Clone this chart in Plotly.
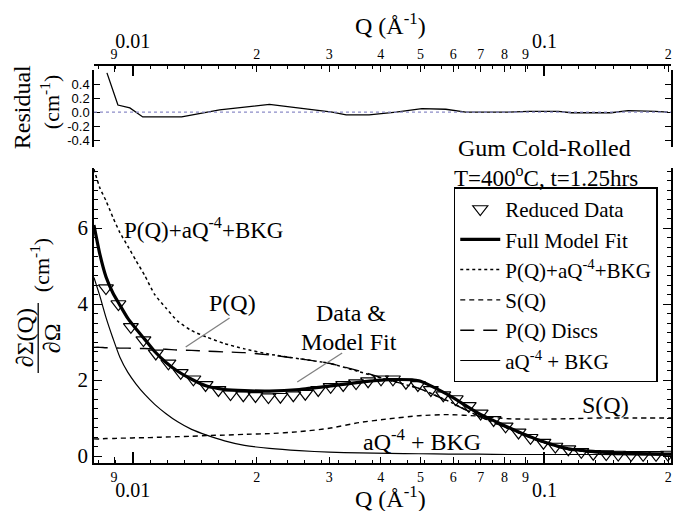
import plotly.graph_objects as go

# ---------------- data ----------------
# Reduced data (triangles)
q_data = [0.008603, 0.009224, 0.009889, 0.01061, 0.01137, 0.01220, 0.01307, 0.01403,
          0.01502, 0.01614, 0.01727, 0.01855, 0.01986, 0.02135, 0.02283, 0.02454,
          0.02624, 0.02821, 0.03024, 0.03244, 0.03486, 0.03728, 0.04008, 0.04285,
          0.04607, 0.04926, 0.05297, 0.05679, 0.06087, 0.06546, 0.06998, 0.07524,
          0.08046, 0.08650, 0.09250, 0.09945, 0.1063, 0.1143, 0.1229, 0.1314,
          0.1413, 0.1511, 0.1624, 0.1737, 0.1867, 0.1996]
i_data = [4.42, 4.00, 3.40, 3.05, 2.70, 2.44, 2.19, 2.02, 1.87, 1.74, 1.63, 1.60,
          1.58, 1.55, 1.56, 1.60, 1.64, 1.74, 1.82, 1.87, 1.92, 1.97, 2.02, 2.02,
          1.93, 1.87, 1.74, 1.60, 1.50, 1.32, 1.12, 0.95, 0.78, 0.62, 0.48, 0.35,
          0.25, 0.18, 0.11, 0.06, 0.05, 0.04, 0.03, 0.03, 0.03, 0.04]

# Model curves
q_model = [0.008043, 0.008319, 0.008603, 0.008945, 0.009301, 0.009725, 0.01017,
           0.01069, 0.01130, 0.01202, 0.01285, 0.01389, 0.01511, 0.01671, 0.01867,
           0.02147, 0.02537, 0.02999, 0.03545, 0.04193, 0.04954, 0.05855, 0.06921,
           0.08182, 0.09672, 0.1143, 0.1351, 0.1643, 0.2030]
full_fit = [6.08, 5.30, 4.72, 4.29, 3.97, 3.62, 3.35, 3.07, 2.75, 2.47, 2.23, 2.02,
            1.84, 1.75, 1.72, 1.71, 1.75, 1.84, 1.94, 2.01, 1.98, 1.60, 1.12, 0.75,
            0.42, 0.19, 0.11, 0.07, 0.05]
p_full = [7.55, 7.05, 6.72, 6.28, 5.88, 5.52, 5.15, 4.75, 4.25, 3.90, 3.55, 3.30,
          3.13, 2.96, 2.82, 2.68, 2.56, 2.44, 2.22, 1.99, 1.78, 1.44, 1.05, 0.72,
          0.40, 0.17, 0.09, 0.06, 0.04]
s_q = [0.45, 0.45, 0.46, 0.46, 0.47, 0.47, 0.48, 0.48, 0.49, 0.50, 0.51, 0.52,
       0.54, 0.55, 0.57, 0.59, 0.64, 0.73, 0.88, 0.98, 1.06, 1.09, 1.05, 0.98,
       0.97, 0.98, 1.00, 1.00, 1.00]
p_discs = [2.86, 2.86, 2.85, 2.85, 2.84, 2.84, 2.83, 2.83, 2.82, 2.81, 2.79, 2.78,
           2.76, 2.74, 2.72, 2.66, 2.56, 2.44, 2.24, 2.00, 1.78, 1.43, 1.05, 0.72,
           0.40, 0.17, 0.08, 0.05, 0.03]
aq4_bkg = [4.70, 4.20, 3.65, 3.10, 2.60, 2.20, 1.90, 1.62, 1.36, 1.12, 0.90, 0.70,
           0.55, 0.40, 0.28, 0.20, 0.14, 0.10, 0.08, 0.07, 0.06, 0.05, 0.05, 0.04,
           0.04, 0.04, 0.04, 0.03, 0.03]

# Residual
q_res = [0.008651, 0.009198, 0.009834, 0.01057, 0.01314, 0.01624, 0.02147, 0.03050,
         0.03298, 0.03749, 0.04357, 0.05038, 0.05758, 0.06438, 0.08182, 0.09148,
         0.1081, 0.1162, 0.1453, 0.1597, 0.1857, 0.1996]
resid = [0.56, 0.10, 0.06, -0.07, -0.07, 0.03, 0.11, 0.00, -0.04, -0.04, 0.00, 0.05,
         0.04, 0.00, 0.00, 0.01, 0.01, -0.01, -0.01, 0.02, 0.01, 0.00]

# tick labels
digit_vals = [0.009, 0.02, 0.03, 0.04, 0.05, 0.06, 0.07, 0.08, 0.09, 0.2]
digit_text = ["9", "2", "3", "4", "5", "6", "7", "8", "9", "2"]
major_vals = [0.01, 0.1]
major_text = ["0.01", "0.1"]
minor_vals = [10 ** (-2 + k / 24) for k in range(-2, 33)]
res_tick_vals = [-0.4, -0.2, 0.0, 0.2, 0.4]
res_tick_text = ["-0.4", "-0.2", "0.0", "0.2", "0.4"]
main_tick_vals = [0, 2, 4, 6]

SERIF = "Liberation Serif"
SANS = "Liberation Sans"
XR = [-2.0944, -0.6925]

fig = go.Figure()
fig.add_trace(go.Scatter(x=q_data, y=i_data, mode="markers", name="Reduced Data",
                         marker=dict(symbol="triangle-down-open", size=13, color="black",
                                     line=dict(width=1.2, color="black"))))
fig.add_trace(go.Scatter(x=q_model, y=full_fit, mode="lines", name="Full Model Fit",
                         line=dict(color="black", width=3.2, shape="spline", smoothing=0.6)))
fig.add_trace(go.Scatter(x=q_model, y=p_full, mode="lines", name="P(Q)+aQ<sup>-4</sup>+BKG",
                         line=dict(color="black", width=1.5, dash="dot", shape="spline", smoothing=0.6)))
fig.add_trace(go.Scatter(x=q_model, y=s_q, mode="lines", name="S(Q)",
                         line=dict(color="black", width=1.4, dash="5px,4px", shape="spline", smoothing=0.6)))
fig.add_trace(go.Scatter(x=q_model, y=p_discs, mode="lines", name="P(Q) Discs",
                         line=dict(color="black", width=1.4, dash="14px,9px", shape="spline", smoothing=0.6)))
fig.add_trace(go.Scatter(x=q_model, y=aq4_bkg, mode="lines", name="aQ<sup>-4</sup> + BKG",
                         line=dict(color="black", width=1.2, shape="spline", smoothing=0.6)))
fig.add_trace(go.Scatter(x=q_res, y=resid, mode="lines", showlegend=False,
                         line=dict(color="black", width=1.3), xaxis="x2", yaxis="y2"))
# helpers so the overlay axes are drawn
fig.add_trace(go.Scatter(x=major_vals, y=[None, None], mode="markers", showlegend=False,
                         hoverinfo="skip", xaxis="x3", yaxis="y"))
fig.add_trace(go.Scatter(x=major_vals, y=[None, None], mode="markers", showlegend=False,
                         hoverinfo="skip", xaxis="x4", yaxis="y2"))

axis_common = dict(type="log", range=XR, showgrid=False, zeroline=False, color="black")

fig.update_layout(
    width=675, height=511,
    margin=dict(l=94, r=2, t=60, b=48),
    paper_bgcolor="white", plot_bgcolor="white",
    font=dict(family=SERIF, color="black"),
    xaxis=dict(**axis_common, domain=[0, 1], anchor="y", side="bottom",
               tickmode="array", tickvals=digit_vals, ticktext=digit_text,
               ticks="inside", ticklen=6, tickwidth=1.2, tickcolor="black",
               showline=True, linewidth=1.5, linecolor="black",
               tickfont=dict(family=SERIF, size=14),
               minor=dict(tickvals=minor_vals, ticks="inside", ticklen=3, tickwidth=1, tickcolor="black")),
    xaxis3=dict(**axis_common, overlaying="x", anchor="y", side="bottom",
                tickmode="array", tickvals=major_vals, ticktext=major_text,
                ticks="inside", ticklen=11, tickwidth=1.5, tickcolor="black",
                showline=False, tickfont=dict(family=SERIF, size=20), ticklabelstandoff=13),
    xaxis2=dict(**axis_common, domain=[0, 1], anchor="free", position=0.9876, side="top",
                tickmode="array", tickvals=digit_vals, ticktext=digit_text,
                ticks="inside", ticklen=6, tickwidth=1.2, tickcolor="black",
                showline=True, linewidth=1.5, linecolor="black",
                tickfont=dict(family=SERIF, size=14),
                minor=dict(tickvals=minor_vals, ticks="inside", ticklen=3, tickwidth=1, tickcolor="black")),
    xaxis4=dict(**axis_common, overlaying="x2", anchor="free", position=0.9876, side="top",
                tickmode="array", tickvals=major_vals, ticktext=major_text,
                ticks="inside", ticklen=10, tickwidth=1.5, tickcolor="black",
                showline=False, tickfont=dict(family=SERIF, size=20), ticklabelstandoff=13),
    yaxis=dict(domain=[0, 0.732], range=[-0.184, 7.58], anchor="x",
               tickmode="array", tickvals=main_tick_vals,
               ticks="inside", ticklen=8, tickwidth=1.3, tickcolor="black",
               showline=True, linewidth=1.5, linecolor="black", mirror="ticks",
               showgrid=False, zeroline=False,
               tickfont=dict(family=SERIF, size=21),
               minor=dict(dtick=0.25, tick0=0, ticks="inside", ticklen=4, tickwidth=1, tickcolor="black")),
    yaxis2=dict(domain=[0.784, 0.975], range=[-0.5, 0.6], anchor="x2",
                tickmode="array", tickvals=res_tick_vals, ticktext=res_tick_text,
                ticks="inside", ticklen=6, tickwidth=1.3, tickcolor="black",
                showline=True, linewidth=1.5, linecolor="black", mirror="ticks",
                showgrid=False, zeroline=False,
                tickfont=dict(family=SANS, size=13)),
    legend=dict(x=0.6235, y=0.684, xanchor="left", yanchor="top",
                bordercolor="black", borderwidth=1.5, bgcolor="white",
                font=dict(family=SERIF, size=21), itemwidth=40, tracegroupgap=0),
    showlegend=True,
)

# residual zero reference line
fig.add_shape(type="line", xref="x2 domain", yref="y2", x0=0, x1=1, y0=0, y1=0,
              line=dict(color="#8c8cc8", width=1.2, dash="dot"))

# pointer lines
gray = "#808080"
fig.add_shape(type="line", xref="paper", yref="paper", x0=0.2349, y0=0.3598, x1=0.1589, y1=0.2878,
              line=dict(color=gray, width=1.3))
fig.add_shape(type="line", xref="paper", yref="paper", x0=0.4301, y0=0.2730, x1=0.3523, y1=0.2010,
              line=dict(color=gray, width=1.3))
# fraction bar of y title
fig.add_shape(type="line", xref="paper", yref="paper", x0=-0.0967, x1=-0.0967, y0=0.2233, y1=0.397,
              line=dict(color="black", width=1.3))

def ann(text, x, y, size=24, angle=0, family=SERIF):
    fig.add_annotation(text=text, x=x, y=y, xref="paper", yref="paper", showarrow=False,
                       xanchor="center", yanchor="middle", textangle=angle,
                       font=dict(family=family, size=size, color="black"))

ann("Q (Å<sup>-1</sup>)", 0.5145, 1.0893, 24)
ann("Q (Å<sup>-1</sup>)", 0.5145, -0.0844, 24)
ann("P(Q)+aQ<sup>-4</sup>+BKG", 0.190, 0.583, 23)
ann("P(Q)", 0.240, 0.397, 24)
ann("Data &", 0.4456, 0.3722, 24)
ann("Model Fit", 0.4421, 0.3002, 24)
ann("S(Q)", 0.886, 0.144, 24)
ann("aQ<sup>-4</sup> + BKG", 0.568, 0.057, 24)
ann("Gum Cold-Rolled", 0.780, 0.7816, 24)
ann("T=400<sup>o</sup>C, t=1.25hrs", 0.7832, 0.7097, 23)
ann("Residual", -0.1244, 0.8834, 24, -90)
ann("(cm<sup>-1</sup>)", -0.076, 0.8958, 22, -90)
ann("∂Σ(Q)", -0.1192, 0.3102, 24, -90)
ann("∂Ω", -0.0725, 0.3102, 24, -90)
ann("(cm<sup>-1</sup>)", -0.0933, 0.4913, 22, -90)

fig.write_html("out.html")
